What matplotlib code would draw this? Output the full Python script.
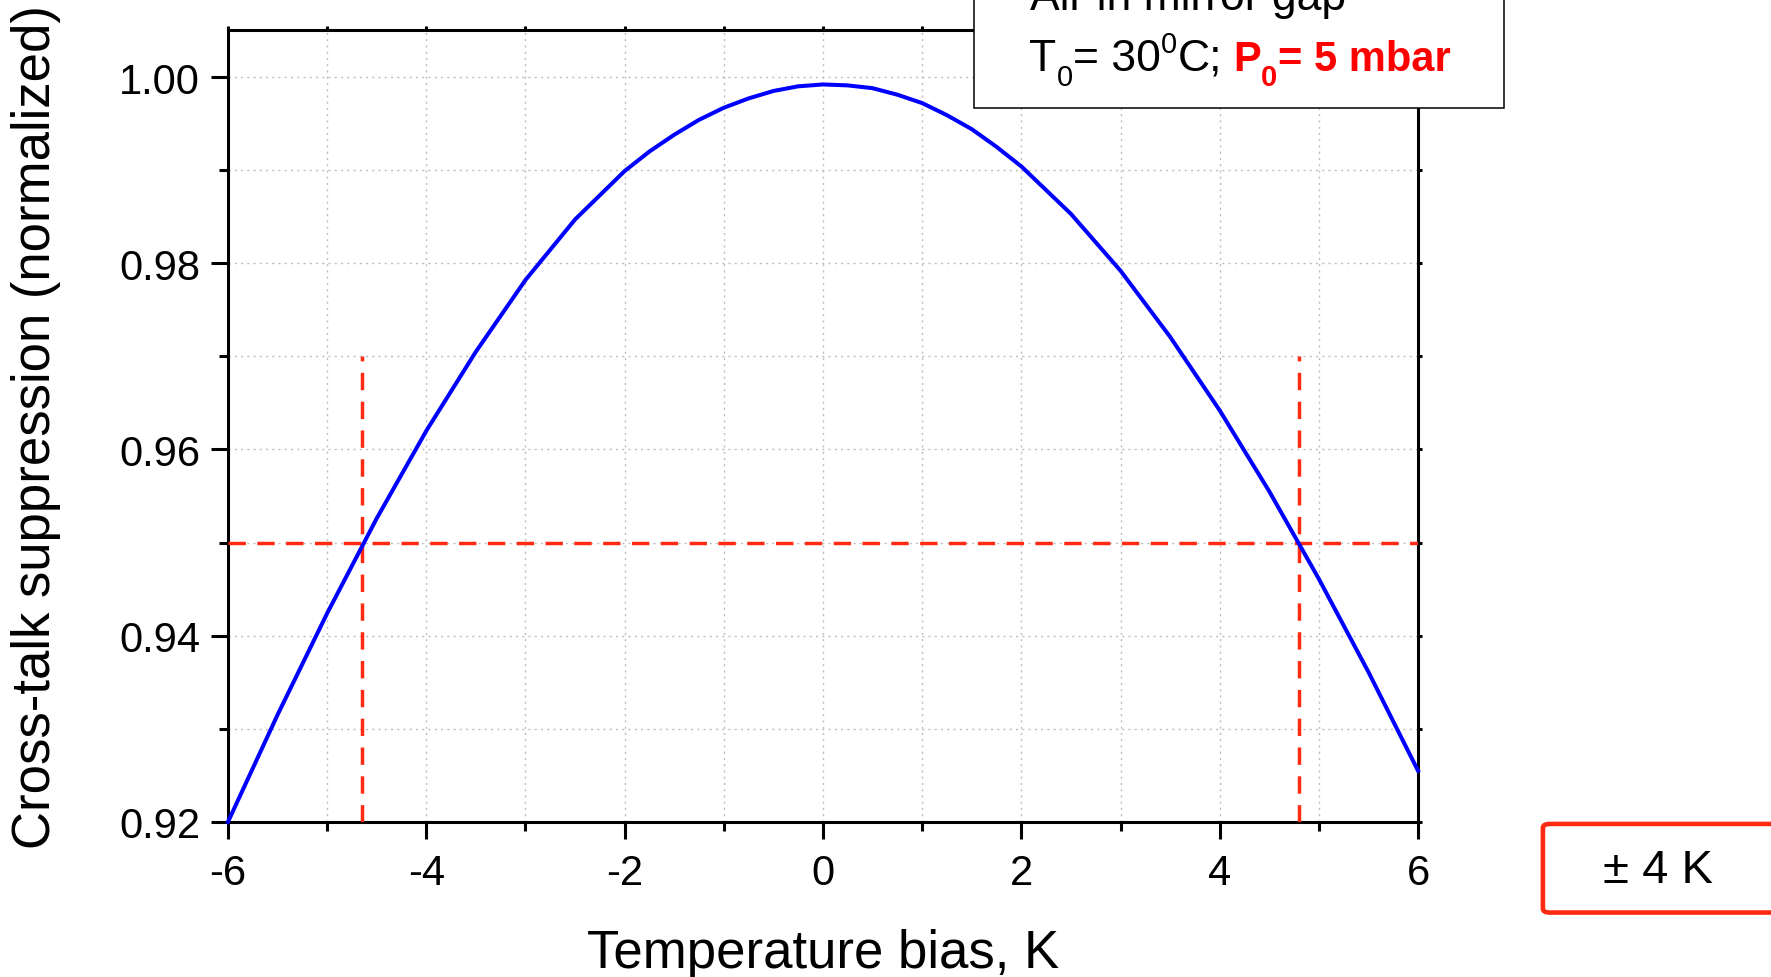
import matplotlib
matplotlib.use('Agg')

import matplotlib.pyplot as plt
import matplotlib.ticker as mticker
from matplotlib.patches import Rectangle, FancyBboxPatch

plt.rcParams['font.family'] = ['Liberation Sans', 'DejaVu Sans']
plt.rcParams['axes.unicode_minus'] = False

# temperature bias (K) and normalized cross-talk suppression
temp_bias = [-6.0, -5.5, -5.0, -4.5, -4.0, -3.5, -3.0, -2.5,
             -2.0, -1.75, -1.5, -1.25, -1.0, -0.75, -0.5, -0.25,
             0.0, 0.25, 0.5, 0.75, 1.0, 1.25, 1.5, 1.75,
             2.0, 2.5, 3.0, 3.5, 4.0, 4.5, 5.0, 5.5, 6.0]
suppression = [0.9200, 0.9315, 0.9424, 0.9526, 0.9620, 0.9705, 0.9782, 0.9847,
               0.9899, 0.9920, 0.9938, 0.9954, 0.9967, 0.9977, 0.9985, 0.9990,
               0.9992, 0.9991, 0.9988, 0.9981, 0.9972, 0.9959, 0.9944, 0.9925,
               0.9904, 0.9853, 0.9792, 0.9721, 0.9642, 0.9555, 0.9461, 0.9361, 0.9255]

# 0.95 threshold and where the curve crosses it
threshold = 0.95
cross_left = -4.65
cross_right = 4.80
marker_top = 0.97

x_ticks = [-6, -4, -2, 0, 2, 4, 6]
y_ticks = [0.92, 0.94, 0.96, 0.98, 1.00]

W, H = 1771, 978
fig = plt.figure(figsize=(W / 100, H / 100), dpi=100)
ax = fig.add_axes([0.1287, 0.1585, 0.6720, 0.8103])

red = '#ff2a12'
dash_style = (5.0, 3.3)

ax.plot(temp_bias, suppression, color='#0000ff', lw=2.9, zorder=4, clip_on=False,
        solid_joinstyle='round')
ax.plot([-6, 6], [threshold, threshold], color=red, lw=2.5, dashes=dash_style, zorder=3)
ax.plot([cross_left, cross_left], [0.92, marker_top], color=red, lw=2.5, dashes=dash_style, zorder=3)
ax.plot([cross_right, cross_right], [0.92, marker_top], color=red, lw=2.5, dashes=dash_style, zorder=3)

ax.set_xlim(-6, 6)
ax.set_ylim(0.92, 1.0051)
ax.set_xticks(x_ticks)
ax.set_yticks(y_ticks)
ax.xaxis.set_minor_locator(mticker.MultipleLocator(1))
ax.yaxis.set_minor_locator(mticker.MultipleLocator(0.01))
ax.yaxis.set_major_formatter(mticker.FormatStrFormatter('%.2f'))

ax.grid(True, which='both', color='#bdbdbd', lw=1.0, linestyle=(0, (1.5, 3)))
ax.set_axisbelow(True)

for sp in ax.spines.values():
    sp.set_linewidth(2.2)

ax.tick_params(which='major', direction='out', length=12, width=2.2, labelsize=30)
ax.tick_params(axis='x', which='major', pad=10)
ax.tick_params(axis='y', which='major', pad=8)
ax.tick_params(which='minor', direction='out', length=6.5, width=2.2)
ax.tick_params(which='both', top=True, right=True)
# inner ticks on top and right sides are short
for t in ax.xaxis.get_major_ticks() + ax.xaxis.get_minor_ticks():
    t.tick2line.set_markersize(3)
for t in ax.yaxis.get_major_ticks() + ax.yaxis.get_minor_ticks():
    t.tick2line.set_markersize(3)

ax.set_xlabel('Temperature bias, K', fontsize=38)
ax.xaxis.label.set_va('baseline')
ax.xaxis.set_label_coords(0.5, -0.183)
ax.set_ylabel('Cross-talk suppression (normalized)', fontsize=38)
ax.yaxis.set_label_coords(-0.140, 0.5)

# condition box at the top
info_box = Rectangle((0.5500, 0.8883), 0.2992, 0.2, transform=fig.transFigure,
                     facecolor='white', edgecolor='black', lw=1.1, zorder=5)
fig.patches.append(info_box)
fig.text(1030 / W, 1 - 10 / H, 'Air in mirror gap', fontsize=32, va='baseline', zorder=6)


def write_pieces(x0, base, pieces):
    # lay out text pieces one after another, with sub/superscripts as small shifted text
    renderer = fig.canvas.get_renderer()
    x = x0
    for txt, size, shift, weight, color, gap in pieces:
        t = fig.text(x / W, 1 - (base - shift) / H, txt, fontsize=size,
                     fontweight=weight, color=color, va='baseline', zorder=6)
        x += t.get_window_extent(renderer=renderer).width + gap


write_pieces(1029, 71, [
    ('T', 32, 0, 'normal', 'black', 1),
    ('0', 21, -15, 'normal', 'black', 0),
    ('= 30', 32, 0, 'normal', 'black', 0),
    ('0', 21, 18, 'normal', 'black', 0),
    ('C;', 32, 0, 'normal', 'black', 11),
    ('P', 30, 0, 'bold', '#ff0000', 1),
    ('0', 21, -15, 'bold', '#ff0000', 0),
    ('= 5 mbar', 30, 0, 'bold', '#ff0000', 0),
])

# tolerance box at the lower right
tol_box = FancyBboxPatch((0.8712, 0.0659), 0.2, 0.0906, transform=fig.transFigure,
                         boxstyle='round,pad=0,rounding_size=0.004',
                         facecolor='white', edgecolor=red, lw=3.3, zorder=5)
fig.patches.append(tol_box)
fig.text(0.9362, 0.1095, '± 4 K', fontsize=34, ha='center', va='center', zorder=6)

fig.savefig('out.png', dpi=100)
